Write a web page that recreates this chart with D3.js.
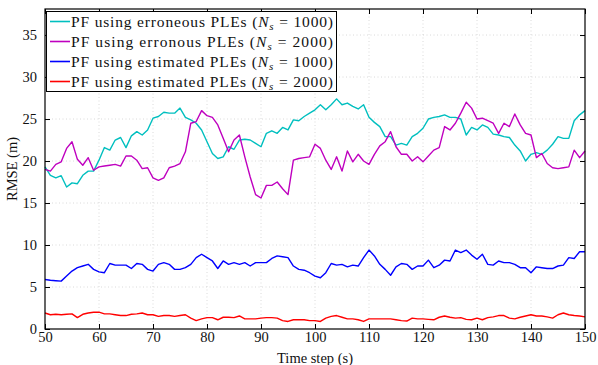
<!DOCTYPE html>
<html>
<head>
<meta charset="utf-8">
<script src="https://cdn.jsdelivr.net/npm/d3@7/dist/d3.min.js"></script>
<style>
  body { margin: 0; background: #fff; }
  svg text { font-family: "Liberation Serif", "DejaVu Serif", serif; fill: #111; }
</style>
</head>
<body>
<div id="chart"></div>
<script>
const timeSteps = d3.range(50, 151);

const cyanErr1000 = [
  19.3, 18.3, 18.0, 18.25, 16.9, 17.4, 17.3, 18.3, 18.8, 18.8,
  20.1, 21.6, 21.3, 22.5, 22.8, 21.6, 23.0, 23.5, 23.1, 23.7,
  25.1, 25.3, 25.8, 25.7, 25.7, 26.3, 25.2, 24.9, 24.5, 23.7,
  22.3, 20.9, 20.3, 20.5, 21.7, 21.4, 22.5, 22.6, 22.5, 22.1,
  21.7, 23.3, 23.6, 23.3, 24.0, 23.7, 24.9, 24.8, 25.3, 25.7,
  26.1, 26.7, 26.1, 26.7, 27.4, 26.7, 26.9, 26.5, 26.2, 26.7,
  25.2, 24.6, 24.1, 22.9, 22.9, 21.9, 22.1, 21.9, 22.9, 23.3,
  23.9, 25.0, 25.2, 25.3, 25.5, 25.2, 25.2, 25.0, 23.1, 24.0,
  23.7, 24.3, 24.0, 23.2, 23.1, 22.9, 22.8, 21.9, 21.2, 20.0,
  20.8, 21.0, 20.8, 21.3, 22.0, 22.9, 22.7, 22.7, 24.8, 25.5,
  26.0
];
const magentaErr2000 = [
  19.0, 18.8, 19.6, 19.9, 21.5, 22.3, 20.2, 19.5, 20.4, 18.9,
  19.3, 19.4, 19.5, 19.6, 19.4, 20.6, 20.6, 20.1, 19.1, 19.2,
  18.0, 17.7, 18.0, 19.2, 19.4, 19.7, 21.1, 24.5, 24.7, 26.0,
  25.4, 25.2, 24.3, 22.7, 21.1, 22.5, 23.1, 20.5, 18.1, 16.0,
  15.6, 17.1, 17.1, 17.5, 16.7, 16.0, 20.1, 20.3, 20.4, 20.5,
  22.0, 21.5, 20.1, 19.0, 20.5, 18.8, 21.2, 19.9, 20.8, 20.0,
  19.6, 20.8, 21.8, 22.3, 23.5, 21.7, 20.8, 20.8, 20.0, 20.5,
  19.9, 20.6, 21.3, 21.6, 24.1, 23.7, 24.5, 25.7, 27.0, 26.3,
  25.0, 25.1, 24.8, 24.5, 23.3, 24.5, 24.1, 25.6, 24.3, 23.3,
  23.1, 20.4, 20.9, 19.7, 19.2, 19.1, 19.2, 19.3, 21.3, 20.4,
  21.2
];
const blueEst1000 = [
  5.9, 5.8, 5.75, 5.7, 6.3, 6.9, 7.3, 7.5, 7.7, 7.1,
  6.8, 6.7, 7.8, 7.6, 7.6, 7.6, 7.2, 7.8, 7.7, 7.1,
  6.9, 7.7, 7.9, 7.7, 7.1, 7.1, 7.3, 7.7, 8.5, 8.9,
  8.5, 8.1, 7.2, 8.1, 7.7, 7.9, 7.7, 7.9, 7.5, 7.9,
  7.9, 7.9, 8.4, 8.7, 8.6, 8.5, 7.5, 7.1, 7.0, 6.7,
  6.3, 6.1, 6.7, 7.8, 7.6, 7.7, 7.4, 7.6, 7.5, 8.5,
  9.4, 8.7, 7.7, 7.1, 6.4, 7.4, 7.8, 7.7, 7.1, 7.5,
  7.5, 8.2, 7.3, 7.6, 8.2, 8.1, 9.4, 9.1, 9.4, 8.8,
  8.3, 8.9, 7.7, 7.6, 8.1, 7.9, 7.9, 7.7, 7.3, 7.3,
  6.7, 7.4, 7.3, 7.2, 7.2, 7.5, 7.6, 8.5, 8.4, 9.2,
  9.2
];
const redEst2000 = [
  1.9, 1.7, 1.75, 1.7, 1.75, 1.8, 1.35, 1.75, 1.9, 2.0,
  2.0, 1.8, 1.8, 1.7, 1.6, 1.6, 1.75, 1.8, 1.9, 1.7,
  1.7, 1.5, 1.6, 1.6, 1.5, 1.6, 1.7, 1.3, 1.0, 1.2,
  1.35, 1.35, 1.1, 1.4, 1.4, 1.35, 1.55, 1.2, 1.2, 1.2,
  1.3, 1.35, 1.35, 1.3, 1.0, 0.9, 1.1, 1.1, 1.1, 1.0,
  1.0, 0.9, 1.3, 1.5, 1.6, 1.4, 1.2, 1.2, 1.1, 0.9,
  1.2, 1.2, 1.2, 1.2, 1.2, 1.1, 1.0, 0.95, 1.3, 1.2,
  1.2, 1.15, 1.1, 1.4, 1.55, 1.4, 1.3, 1.35, 1.15, 1.1,
  1.3, 1.1, 1.35, 1.45, 1.6, 1.6, 1.3, 1.2, 1.4, 1.55,
  1.7, 1.55, 1.55, 1.45, 1.3, 1.7, 1.9, 1.7, 1.6, 1.55,
  1.45
];

const xTicks = [50, 60, 70, 80, 90, 100, 110, 120, 130, 140, 150];
const yTicks = [0, 5, 10, 15, 20, 25, 30, 35];

const seriesLabels = ["erroneous", "erronous", "estimated", "estimated"];
const seriesCounts = ["1000", "2000", "1000", "2000"];
const seriesColors = ["#00bfbf", "#bf00bf", "#0000ff", "#ff0000"];
const seriesValues = [cyanErr1000, magentaErr2000, blueEst1000, redEst2000];

const width = 598, height = 365;
const margin = { top: 9, right: 13, bottom: 36, left: 45 };

const svg = d3.select("#chart").append("svg")
  .attr("width", width)
  .attr("height", height);

const x = d3.scaleLinear().domain([50, 150]).range([margin.left, width - margin.right]);
const y = d3.scaleLinear().domain([0, 38.1]).range([height - margin.bottom, margin.top]);

// grid
const grid = svg.append("g").attr("stroke", "#d0d0d0").attr("stroke-width", 0.8).attr("stroke-dasharray", "1,2.5");
xTicks.slice(1, -1).forEach(t => {
  grid.append("line").attr("x1", x(t)).attr("x2", x(t)).attr("y1", y.range()[0]).attr("y2", y.range()[1]);
});
yTicks.slice(1).forEach(t => {
  grid.append("line").attr("x1", x.range()[0]).attr("x2", x.range()[1]).attr("y1", y(t)).attr("y2", y(t));
});

// lines
const line = d3.line().x((d, i) => x(timeSteps[i])).y(d => y(d));
seriesValues.forEach((vals, i) => {
  svg.append("path")
    .datum(vals)
    .attr("fill", "none")
    .attr("stroke", seriesColors[i])
    .attr("stroke-width", 1.4)
    .attr("stroke-linejoin", "round")
    .attr("d", line);
});

// axes (inward ticks, mirrored)
const tickLen = 5;
const fontSize = 14.5;
const bottomAxis = svg.append("g")
  .attr("transform", `translate(0,${y.range()[0]})`)
  .call(d3.axisBottom(x).tickValues(xTicks).tickSizeInner(-tickLen).tickSizeOuter(0).tickPadding(6));
const topAxis = svg.append("g")
  .attr("transform", `translate(0,${y.range()[1]})`)
  .call(d3.axisTop(x).tickValues(xTicks).tickSizeInner(-tickLen).tickSizeOuter(0).tickFormat(""));
const leftAxis = svg.append("g")
  .attr("transform", `translate(${x.range()[0]},0)`)
  .call(d3.axisLeft(y).tickValues(yTicks).tickSizeInner(-tickLen).tickSizeOuter(0).tickPadding(8));
const rightAxis = svg.append("g")
  .attr("transform", `translate(${x.range()[1]},0)`)
  .call(d3.axisRight(y).tickValues(yTicks).tickSizeInner(-tickLen).tickSizeOuter(0).tickFormat(""));

[bottomAxis, topAxis, leftAxis, rightAxis].forEach(g => {
  g.select(".domain").remove();
  g.selectAll(".tick line").attr("stroke", "#000").attr("stroke-width", 1);
  g.selectAll("text").attr("font-size", fontSize).attr("font-family", "Liberation Serif, serif").attr("fill", "#111");
});
bottomAxis.selectAll("text").attr("dy", "0.45em");

// frame
svg.append("rect")
  .attr("x", x.range()[0]).attr("y", y.range()[1])
  .attr("width", x.range()[1] - x.range()[0])
  .attr("height", y.range()[0] - y.range()[1])
  .attr("fill", "none").attr("stroke", "#000").attr("stroke-width", 1.2);

// axis labels
svg.append("text")
  .attr("x", (x.range()[0] + x.range()[1]) / 2)
  .attr("y", height - 2)
  .attr("text-anchor", "middle")
  .attr("font-size", fontSize)
  .text("Time step (s)");
svg.append("text")
  .attr("transform", `translate(17,${(y.range()[0] + y.range()[1]) / 2}) rotate(-90)`)
  .attr("text-anchor", "middle")
  .attr("font-size", fontSize)
  .text("RMSE (m)");

// legend
const legend = svg.append("g");
legend.append("rect")
  .attr("x", 46.5).attr("y", 11.5).attr("width", 290).attr("height", 80)
  .attr("fill", "#fff").attr("stroke", "#000").attr("stroke-width", 1);
seriesLabels.forEach((lab, i) => {
  const ly = 21.5 + i * 20;
  legend.append("line")
    .attr("x1", 50).attr("x2", 70).attr("y1", ly).attr("y2", ly)
    .attr("stroke", seriesColors[i]).attr("stroke-width", 1.6);
  const t = legend.append("text")
    .attr("x", 71).attr("y", ly + 5)
    .attr("font-size", 15.5)
    .attr("textLength", 262);
  t.append("tspan").text(`PF using ${lab} PLEs (`);
  t.append("tspan").attr("font-style", "italic").text("N");
  t.append("tspan").attr("font-style", "italic").attr("font-size", 11).attr("dy", 3).text("s");
  t.append("tspan").attr("dy", -3).text(` = ${seriesCounts[i]})`);
});
</script>
</body>
</html>
